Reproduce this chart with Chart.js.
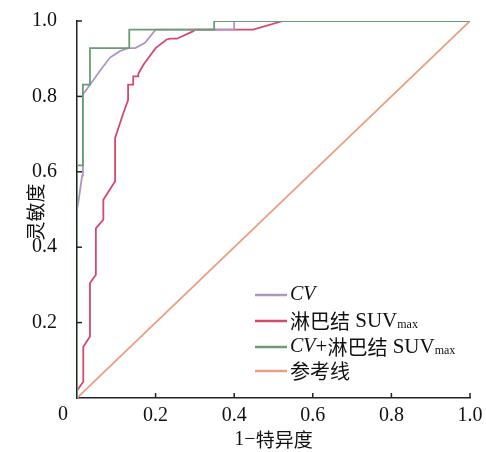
<!DOCTYPE html>
<html><head><meta charset="utf-8">
<script src="https://cdn.jsdelivr.net/npm/chart.js@4/dist/chart.umd.min.js"></script>
<style>html,body{margin:0;padding:0;background:#fff}#wrap{width:486px;height:452px}</style>
</head><body><div id="wrap"><canvas id="c" width="486" height="452"></canvas></div>
<script>
// ---- data ----
const cvX = [0, 0, 0.005, 0.013, 0.015, 0.015, 0.033, 0.06, 0.084, 0.109, 0.13, 0.148, 0.173, 0.2, 0.40, 0.40, 1];
const cvY = [0, 0.50, 0.53, 0.59, 0.617, 0.805, 0.831, 0.87, 0.903, 0.92, 0.928, 0.928, 0.942, 0.977, 0.977, 1, 1];

const suvX = [0, 0, 0.016, 0.016, 0.033, 0.033, 0.048, 0.048, 0.067, 0.067, 0.097, 0.097, 0.118, 0.13, 0.13, 0.143, 0.143, 0.156, 0.156, 0.169, 0.2, 0.228, 0.237, 0.254, 0.296, 0.30, 0.448, 0.524, 1];
const suvY = [0, 0.02, 0.043, 0.136, 0.163, 0.305, 0.327, 0.45, 0.473, 0.526, 0.575, 0.69, 0.756, 0.79, 0.831, 0.831, 0.853, 0.853, 0.86, 0.884, 0.928, 0.951, 0.953, 0.953, 0.973, 0.977, 0.977, 1, 1];

const comboX = [0, 0, 0.015, 0.015, 0.033, 0.033, 0.133, 0.133, 0.349, 0.349, 1];
const comboY = [0, 0.617, 0.617, 0.831, 0.831, 0.928, 0.928, 0.977, 0.977, 1, 1];

const refX = [0, 1];
const refY = [0, 1];

const tickValues = [0, 0.2, 0.4, 0.6, 0.8, 1.0];
const tickLabels = ['0', '0.2', '0.4', '0.6', '0.8', '1.0'];

const xTitle = '1\u2212特异度';
const yTitle = '灵敏度';
const legendItems = [
  {parts: [{t: 'CV', it: true}], color: '#ad95c6'},
  {parts: [{t: '淋巴结', cjk: true}, {t: ' SUV'}, {t: 'max', sub: true}], color: '#d24a6e'},
  {parts: [{t: 'CV', it: true}, {t: '+'}, {t: '淋巴结', cjk: true}, {t: ' SUV'}, {t: 'max', sub: true}], color: '#6a9c74'},
  {parts: [{t: '参考线', cjk: true}], color: '#ea9f82'}
];

const pts = (xs, ys) => xs.map((x, i) => ({x: x, y: ys[i]}));
const SERIF = '"Liberation Serif", "Times New Roman", serif';
const CJK = '"Noto Sans CJK SC", sans-serif';

const decor = {
  id: 'decor',
  afterDraw(chart) {
    const ctx = chart.ctx, xs = chart.scales.x, ys = chart.scales.y;
    const a = chart.chartArea;
    ctx.save();
    // inward ticks
    ctx.strokeStyle = '#222'; ctx.lineWidth = 1.5;
    tickValues.forEach(v => {
      if (v === 0) return;
      const px = xs.getPixelForValue(v);
      ctx.beginPath(); ctx.moveTo(px, a.bottom); ctx.lineTo(px, a.bottom - 5); ctx.stroke();
      const py = ys.getPixelForValue(v);
      ctx.beginPath(); ctx.moveTo(a.left, py); ctx.lineTo(a.left + 5, py); ctx.stroke();
    });
    // origin label
    ctx.fillStyle = '#111';
    ctx.font = '20px ' + SERIF;
    ctx.textAlign = 'center'; ctx.textBaseline = 'middle';
    ctx.fillText(tickLabels[0], a.left - 14, a.bottom + 17);
    // axis titles
    const xParts = [{t: '1\u2212', f: '20px ' + SERIF}, {t: '特异度', f: '19px ' + CJK}];
    let w = 0; xParts.forEach(p => { ctx.font = p.f; w += ctx.measureText(p.t).width; });
    let cx = (a.left + a.right) / 2 - w / 2;
    ctx.textAlign = 'left';
    xParts.forEach(p => { ctx.font = p.f; ctx.fillText(p.t, cx, 440); cx += ctx.measureText(p.t).width; });
    ctx.save();
    ctx.translate(36, 212); ctx.rotate(-Math.PI / 2);
    ctx.font = '19px ' + CJK; ctx.textAlign = 'center';
    ctx.fillText(yTitle, 0, 0);
    ctx.restore();
    // legend
    const ly = [295, 321, 347, 371];
    legendItems.forEach((it, i) => {
      const y = ly[i];
      ctx.strokeStyle = it.color; ctx.lineWidth = 2.5;
      ctx.beginPath(); ctx.moveTo(255, y); ctx.lineTo(287, y); ctx.stroke();
      let x = 290;
      ctx.textAlign = 'left'; ctx.fillStyle = '#111';
      it.parts.forEach(p => {
        let f, dy = 0;
        if (p.cjk) f = '20px ' + CJK;
        else if (p.sub) { f = '12px ' + SERIF; dy = 4; }
        else if (p.it) f = 'italic 20px ' + SERIF;
        else f = '21px ' + SERIF;
        ctx.font = f;
        ctx.fillText(p.t, x, y + dy);
        x += ctx.measureText(p.t).width;
      });
    });
    ctx.restore();
  }
};

const lineDs = (label, xs, ys, color) => ({
  label: label, data: pts(xs, ys), showLine: true, borderColor: color, backgroundColor: color,
  borderWidth: 1.8, pointRadius: 0, tension: 0, fill: false
});

new Chart(document.getElementById('c'), {
  type: 'scatter',
  data: {
    datasets: [
      lineDs('CV+淋巴结 SUVmax', comboX, comboY, legendItems[2].color),
      lineDs('CV', cvX, cvY, legendItems[0].color),
      lineDs('淋巴结 SUVmax', suvX, suvY, legendItems[1].color),
      lineDs('参考线', refX, refY, legendItems[3].color)
    ]
  },
  options: {
    responsive: false, animation: false, devicePixelRatio: 1,
    layout: {autoPadding: false, padding: {top: 21, right: 16, left: 0, bottom: 0}},
    plugins: {legend: {display: false}, tooltip: {enabled: false}},
    scales: {
      x: {
        type: 'linear', min: 0, max: 1,
        afterFit: s => { s.height = 54; s.paddingLeft = 0; s.paddingRight = 0; },
        afterBuildTicks: s => { s.ticks = tickValues.map(v => ({value: v})); },
        grid: {display: false, drawTicks: false},
        border: {display: true, color: '#222', width: 1.5},
        ticks: {
          padding: 6, color: '#111', font: {family: SERIF, size: 20},
          callback: v => { const i = tickValues.indexOf(v); return i > 0 ? tickLabels[i] : ''; }
        }
      },
      y: {
        type: 'linear', min: 0, max: 1,
        afterFit: s => { s.width = 77; s.paddingTop = 0; s.paddingBottom = 0; },
        afterBuildTicks: s => { s.ticks = tickValues.map(v => ({value: v})); },
        grid: {display: false, drawTicks: false},
        border: {display: true, color: '#222', width: 1.5},
        ticks: {
          padding: 20, color: '#111', font: {family: SERIF, size: 20},
          callback: v => { const i = tickValues.indexOf(v); return i > 0 ? tickLabels[i] : ''; }
        }
      }
    }
  },
  plugins: [decor]
});
</script></body></html>
